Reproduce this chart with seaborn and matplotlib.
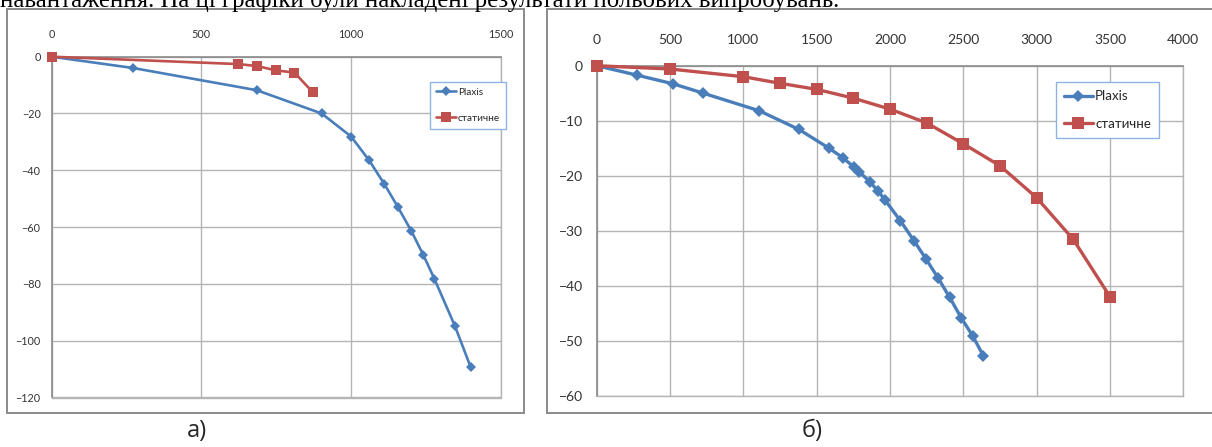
import numpy as np
import pandas as pd
import matplotlib
matplotlib.use("Agg")
import matplotlib.pyplot as plt
from matplotlib.patches import Rectangle
import seaborn as sns

# ---- data ----
# panel a)
a_plaxis_x = [0, 273, 685, 902, 1000, 1060, 1111, 1157, 1201, 1241, 1278, 1347, 1400]
a_plaxis_y = [0, -4.0, -11.8, -20.0, -28.1, -36.4, -44.8, -53.0, -61.3, -69.7, -78.1, -94.8, -109.4]
a_static_x = [0, 624, 686, 749, 811, 872]
a_static_y = [0, -2.6, -3.3, -4.8, -5.6, -12.5]
a_xticks = [0, 500, 1000, 1500]
a_yticks = [0, -20, -40, -60, -80, -100, -120]

# panel б)
b_plaxis_x = [0, 272, 522, 727, 1109, 1380, 1584, 1677, 1752, 1791, 1862, 1916, 1968,
              2071, 2163, 2247, 2328, 2406, 2485, 2563, 2636]
b_plaxis_y = [0, -1.7, -3.3, -5.0, -8.2, -11.6, -15.0, -16.7, -18.4, -19.3, -21.1, -22.7, -24.5,
              -28.2, -31.8, -35.2, -38.6, -42.1, -45.8, -49.1, -52.7]
b_static_x = [0, 500, 1000, 1250, 1500, 1750, 2000, 2250, 2500, 2750, 3000, 3250, 3500]
b_static_y = [0, -0.6, -2.0, -3.2, -4.3, -5.9, -7.9, -10.4, -14.2, -18.2, -24.0, -31.6, -42.0]
b_xticks = [0, 500, 1000, 1500, 2000, 2500, 3000, 3500, 4000]
b_yticks = [0, -10, -20, -30, -40, -50, -60]

series_names = ["Plaxis", "статичне"]
panel_labels = ["а)", "б)"]
top_text = "навантаження. На ці графіки були накладені результати польових випробувань."

BLUE = "#4a7ebb"
RED = "#c0504d"
GRID = "#b4b4b4"

sns.set_style("white")
plt.rcParams['font.family'] = ['Lato', 'DejaVu Sans']

W, H = 1212, 447
fig = plt.figure(figsize=(W / 100, H / 100), dpi=100)


def px_axes(x0, y0, x1, y1):
    """axes from pixel box (top-left origin)"""
    return fig.add_axes([x0 / W, 1 - y1 / H, (x1 - x0) / W, (y1 - y0) / H])


def frame(x0, y0, x1, y1):
    fig.add_artist(Rectangle((x0 / W, 1 - y1 / H), (x1 - x0) / W, (y1 - y0) / H,
                             transform=fig.transFigure, fill=False,
                             ec="#8a8a8a", lw=1.4))


def draw_panel(ax, px, py, sx, sy, xticks, yticks, fs, lw, ms_d, ms_s, xpad, ypad,
               leg_anchor, leg_fs, leg_space, leg_hl):
    df_p = pd.DataFrame({"x": px, "y": py})
    df_s = pd.DataFrame({"x": sx, "y": sy})
    sns.lineplot(data=df_p, x="x", y="y", ax=ax, color=BLUE, lw=lw, marker="D",
                 markersize=ms_d, markeredgewidth=0, sort=False, estimator=None,
                 label=series_names[0], clip_on=False, zorder=4)
    sns.lineplot(data=df_s, x="x", y="y", ax=ax, color=RED, lw=lw, marker="s",
                 markersize=ms_s, markeredgewidth=0, sort=False, estimator=None,
                 label=series_names[1], clip_on=False, zorder=5)
    ax.set_xlim(xticks[0], xticks[-1])
    ax.set_ylim(yticks[-1], yticks[0])
    ax.set_xticks(xticks)
    ax.set_yticks(yticks)
    ax.set_xlabel("")
    ax.set_ylabel("")
    ax.xaxis.tick_top()
    ax.tick_params(axis="x", length=0, pad=xpad, labelsize=fs, colors="#333333")
    ax.tick_params(axis="y", length=0, pad=ypad, labelsize=fs, colors="#333333")
    ax.grid(True, color=GRID, lw=1)
    for side in ["left", "top"]:
        ax.spines[side].set_color("#8a8a8a")
        ax.spines[side].set_linewidth(1.2)
    for side in ["right", "bottom"]:
        ax.spines[side].set_color(GRID)
        ax.spines[side].set_linewidth(1)
    leg = ax.legend(loc="upper left", bbox_to_anchor=leg_anchor, borderaxespad=0,
                    fontsize=leg_fs, frameon=True, fancybox=False, framealpha=1,
                    labelspacing=leg_space, handlelength=leg_hl, handletextpad=0.15,
                    borderpad=0.6)
    leg.get_frame().set_edgecolor("#8db3e2")
    leg.get_frame().set_linewidth(1)
    return ax


# left panel a)
frame(7, 9, 524, 413)
ax1 = px_axes(51.7, 56.7, 500.7, 397.5)
draw_panel(ax1, a_plaxis_x, a_plaxis_y, a_static_x, a_static_y, a_xticks, a_yticks,
           fs=7.8, lw=1.9, ms_d=5.5, ms_s=7, xpad=12, ypad=8,
           leg_anchor=(0.843, 0.927), leg_fs=7.2, leg_space=1.7, leg_hl=2.0)

# right panel б)
frame(547, 9, 1213, 413)
ax2 = px_axes(596.7, 65.7, 1183.3, 395.7)
draw_panel(ax2, b_plaxis_x, b_plaxis_y, b_static_x, b_static_y, b_xticks, b_yticks,
           fs=10, lw=2.4, ms_d=6.5, ms_s=9, xpad=14, ypad=10,
           leg_anchor=(0.7825, 0.95), leg_fs=9.6, leg_space=1.15, leg_hl=2.2)

# text around the charts (the top line is cut by the image edge, as in the source)
fig.text(0.0, 1 - 7 / H, top_text, family=["Liberation Serif", "DejaVu Serif"],
         fontsize=17.8, va="baseline", ha="left", color="black")
fig.text(197 / W, 1 - 431 / H, panel_labels[0], family=["Open Sans", "DejaVu Sans"],
         fontsize=17, va="center", ha="center")
fig.text(812 / W, 1 - 431 / H, panel_labels[1], family=["Open Sans", "DejaVu Sans"],
         fontsize=17, va="center", ha="center")

fig.savefig("out.png", dpi=100)
